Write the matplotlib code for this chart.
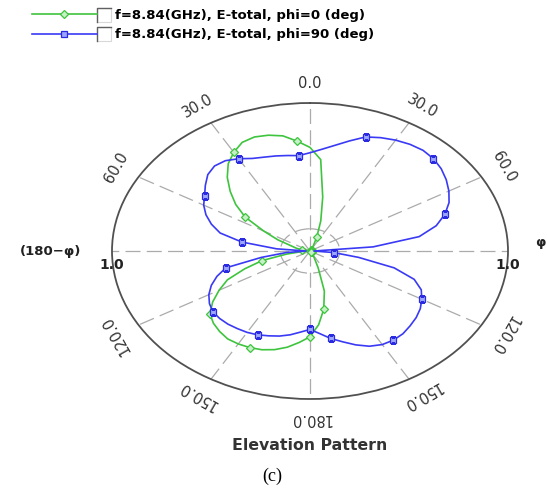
import matplotlib.pyplot as plt
import numpy as np
from matplotlib.patches import Rectangle
from matplotlib.lines import Line2D

# elevation angle, deg (clockwise from top), sampled every 5 deg
theta_deg = np.arange(-180, 185, 5)

# normalised E-total, phi = 0 deg (green)
e_phi0 = [0.58, 0.62, 0.66, 0.69, 0.71, 0.72, 0.725, 0.725, 0.71, 0.69,
          0.66, 0.60, 0.53, 0.46, 0.35, 0.25, 0.12, 0.04, 0.01, 0.02,
          0.04, 0.07, 0.10, 0.18, 0.27, 0.40, 0.49, 0.57, 0.65, 0.72,
          0.77, 0.81, 0.82, 0.81, 0.79, 0.745, 0.70, 0.62, 0.37, 0.21,
          0.10, 0.04, 0.02, 0.015, 0.01, 0.01, 0.01, 0.01, 0.01, 0.01,
          0.01, 0.01, 0.01, 0.01, 0.01, 0.01, 0.01, 0.01, 0.01, 0.01,
          0.01, 0.01, 0.01, 0.01, 0.01, 0.01, 0.02, 0.05, 0.12, 0.28,
          0.40, 0.50, 0.58]

# normalised E-total, phi = 90 deg (blue)
e_phi90 = [0.53, 0.55, 0.575, 0.595, 0.61, 0.625, 0.635, 0.64, 0.645, 0.645,
           0.64, 0.62, 0.59, 0.55, 0.50, 0.44, 0.25, 0.12, 0.02, 0.17,
           0.35, 0.47, 0.53, 0.58, 0.62, 0.65, 0.69, 0.73, 0.75, 0.745,
           0.72, 0.69, 0.675, 0.665, 0.655, 0.647, 0.664, 0.69, 0.725, 0.77,
           0.82, 0.845, 0.865, 0.88, 0.888, 0.882, 0.865, 0.84, 0.81, 0.775,
           0.725, 0.66, 0.56, 0.32, 0.02, 0.12, 0.25, 0.44, 0.56, 0.62,
           0.652, 0.68, 0.70, 0.715, 0.73, 0.735, 0.73, 0.71, 0.675, 0.635,
           0.60, 0.56, 0.53]

labels = ['f=8.84(GHz), E-total, phi=0 (deg)',
          'f=8.84(GHz), E-total, phi=90 (deg)']

tick_angles = [0, 30, 60, 120, 150, 180, 210, 240, 300, 330]
tick_text = ['0.0', '30.0', '60.0', '120.0', '150.0', '180.0',
             '150.0', '120.0', '60.0', '30.0']

W, H = 547, 492
fig = plt.figure(figsize=(W / 100, H / 100), dpi=100)
ax = fig.add_axes([112 / W, 1 - 399 / H, 396 / W, 296 / H], projection='polar')
ax.set_aspect('auto')
ax.set_theta_zero_location('N')
ax.set_theta_direction(-1)
ax.set_ylim(0, 1)

ax.set_thetagrids(range(0, 360, 30), labels=[''] * 12)
ax.set_rgrids([0.15], labels=[''])
ax.grid(color='#ababab', linestyle=(0, (12, 5)), linewidth=0.9)
ax.spines['polar'].set_color('#505050')
ax.spines['polar'].set_linewidth(1.3)
ax.tick_params(length=0)

th = np.deg2rad(theta_deg)
l1, = ax.plot(th, e_phi0, color='#3ec43e', lw=1.2, marker='D', ms=4,
              mfc='#c8f0c8', mec='#3ec43e', mew=0.9, markevery=5)
l2, = ax.plot(th, e_phi90, color='#3a3af5', lw=1.2, marker='s', ms=4.5,
              mfc='#9da6ff', mec='#2a2ae0', mew=0.9, markevery=5)

for a, t in zip(tick_angles, tick_text):
    ax.text(np.deg2rad(a), 1.13, t, rotation=-a, rotation_mode='anchor',
            ha='center', va='center', fontsize=10.5, color='#333333',
            family='DejaVu Sans')

for a in (90, 270):
    ax.annotate('1.0', xy=(np.deg2rad(a), 1.0), xytext=(0, -10),
                textcoords='offset points', ha='center', va='center',
                fontsize=10, fontweight='bold', color='#222222',
                annotation_clip=False)
ax.annotate('(180\u2212\u03c6)', xy=(np.deg2rad(270), 1.0), xytext=(-44, 0),
            textcoords='offset points', ha='center', va='center',
            fontsize=9.5, fontweight='bold', color='#222222',
            annotation_clip=False)
ax.annotate('\u03c6', xy=(np.deg2rad(90), 1.0), xytext=(23, 6),
            textcoords='offset points', ha='center', va='center',
            fontsize=9.5, fontweight='bold', color='#222222',
            annotation_clip=False)

fig.legend([l1, l2], labels, loc='upper left',
           bbox_to_anchor=(32 / W, 1 - 9 / H), frameon=False,
           handlelength=4.9, handletextpad=1.36, labelspacing=0.47,
           borderaxespad=0, borderpad=0,
           prop={'family': 'DejaVu Sans', 'weight': 'bold', 'size': 9.5})

# little check boxes beside the legend entries
for ytop in (8, 27):
    x0, x1 = 97 / W, 111 / W
    y0, y1 = 1 - ytop / H, 1 - (ytop + 14) / H
    fig.add_artist(Rectangle((x0, y1), x1 - x0, y0 - y1, transform=fig.transFigure,
                             facecolor='white', edgecolor='#d8d8d8', lw=0.8))
    fig.add_artist(Line2D([x0, x0, x1], [y1, y0, y0], transform=fig.transFigure,
                          color='#606060', lw=1.0))

fig.text(310 / W, 1 - 446 / H, 'Elevation Pattern', ha='center', va='center',
         fontsize=11.3, fontweight='bold', color='#333333', family='DejaVu Sans')
fig.text(272 / W, 1 - 476 / H, '(c)', ha='center', va='center',
         fontsize=13, family='Liberation Serif', color='black')

fig.savefig('out.png', dpi=100)
